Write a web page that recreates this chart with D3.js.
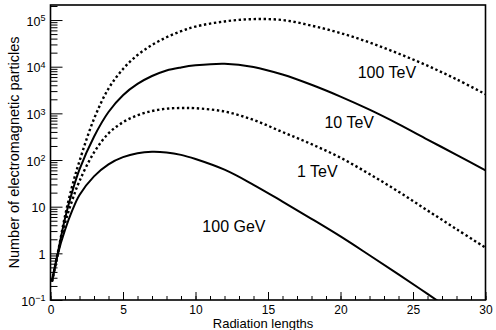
<!DOCTYPE html>
<html lang="en">
    <head>
        <meta charset="utf-8">
        <title>Electromagnetic shower profiles</title>
        <script src="https://d3js.org/d3.v7.min.js" charset="utf-8"></script>
        <style>
            body { margin: 0; background: #fff; }
            text { font-family: "Liberation Sans", Arial, Helvetica, sans-serif; fill: #000; }
        </style>
    </head>
    <body>
        <script type="text/javascript">

            // Width and height
            var w = 496;
            var h = 330;

            // depth in radiation lengths
            var radLen = [0.1, 0.5, 1, 1.5, 2, 3, 4, 5, 6, 7, 8, 9, 10, 12, 14, 16, 18, 20, 22, 24, 26, 28, 30];

            // number of particles
            var gev100 = [0.25, 0.95, 3.16, 8.3, 17.8, 44.7, 81, 115, 140, 150, 145, 129, 105, 62, 29.5, 12.9, 5.5, 2.3, 0.91, 0.355, 0.135, 0.051, 0.0195];
            var tev1   = [0.25, 1.0, 4.4, 13.8, 35.5, 145, 372, 646, 912, 1122, 1259, 1303, 1288, 1096, 724, 398, 219, 112, 50, 21, 8.3, 3.3, 1.32];
            var tev10  = [0.25, 1.0, 5.6, 21, 63, 316, 1070, 2450, 4270, 6310, 8320, 9660, 10700, 11600, 9900, 6800, 4100, 2290, 1200, 590, 275, 129, 60];
            var tev100 = [0.25, 1.0, 6.3, 28, 95, 760, 3400, 8900, 17800, 29200, 42700, 57500, 72400, 93300, 104700, 100000, 75900, 52500, 33100, 19100, 10500, 5370, 2570];

            var series = [
                { values: gev100, dotted: false },
                { values: tev1, dotted: true },
                { values: tev10, dotted: false },
                { values: tev100, dotted: true }
            ];

            // curve labels, placed in data coordinates
            var labelText = ["100 TeV", "10 TeV", "1 TeV", "100 GeV"];
            var labelT    = [23.2, 20.6, 18.4, 12.65];
            var labelN    = [5600, 480, 43, 2.9];

            // axis ticks
            var xMajor = [0, 5, 10, 15, 20, 25, 30];
            var xMinor = d3.range(0, 31, 1);
            var yMajor = [0.1, 1, 10, 100, 1000, 10000, 100000];
            var yLabels = [["10", "\u22121"], ["1", ""], ["10", ""], ["10", "2"], ["10", "3"], ["10", "4"], ["10", "5"]];

            // plot frame (top/left are taken by window, so prefixed)
            var pLeft = 50.5, pRight = 485.5, pTop = 5, pBottom = 300;

            var x = d3.scaleLinear().domain([0, 30]).range([pLeft, pRight]);
            var y = d3.scaleLog().domain([0.1, 2.1e5]).range([pBottom, pTop]);

            var svg = d3.select("body")
                .append("svg")
                .attr("width", w)
                .attr("height", h);

            svg.append("clipPath")
                .attr("id", "plotclip")
                .append("rect")
                .attr("x", pLeft)
                .attr("y", pTop)
                .attr("width", pRight - pLeft)
                .attr("height", pBottom - pTop);

            // minor ticks on y (2..9 of each decade)
            var yMinor = [];
            yMajor.forEach(function (d) {
                for (var k = 2; k <= 9; k++) {
                    if (d * k <= 2.1e5) yMinor.push(d * k);
                }
            });

            svg.append("g")
                .attr("transform", "translate(" + pLeft + ",0)")
                .call(d3.axisLeft(y).tickValues(yMinor).tickSize(-7).tickFormat(""))
                .call(function (g) { g.select(".domain").remove(); });

            var yAxis = svg.append("g")
                .attr("transform", "translate(" + pLeft + ",0)")
                .call(d3.axisLeft(y).tickValues(yMajor).tickSize(-12).tickPadding(5).tickFormat(""));
            yAxis.select(".domain").remove();

            // 10^n labels with superscripts
            yAxis.selectAll(".tick text")
                .attr("dy", "0.42em")
                .style("font-size", "12.5px")
                .each(function (d, i) {
                    var t = d3.select(this);
                    t.append("tspan").text(yLabels[i][0]);
                    if (yLabels[i][1] !== "") {
                        t.append("tspan")
                            .attr("dy", "-0.5em")
                            .style("font-size", "9px")
                            .text(yLabels[i][1]);
                    }
                });

            // x ticks
            svg.append("g")
                .attr("transform", "translate(0," + pBottom + ")")
                .call(d3.axisBottom(x).tickValues(xMinor).tickSize(-4).tickFormat(""))
                .call(function (g) { g.select(".domain").remove(); });

            var xAxis = svg.append("g")
                .attr("transform", "translate(0," + pBottom + ")")
                .call(d3.axisBottom(x).tickValues(xMajor).tickSize(-8).tickPadding(5));
            xAxis.select(".domain").remove();
            xAxis.selectAll(".tick text").style("font-size", "12px");

            svg.selectAll(".tick line").attr("stroke", "#000").attr("stroke-width", 1);

            // frame
            svg.append("rect")
                .attr("x", pLeft)
                .attr("y", pTop)
                .attr("width", pRight - pLeft)
                .attr("height", pBottom - pTop)
                .attr("fill", "none")
                .attr("stroke", "#000")
                .attr("stroke-width", 1.6);

            // curves
            var line = d3.line()
                .x(function (d) { return x(d[0]); })
                .y(function (d) { return y(d[1]); })
                .curve(d3.curveCatmullRom.alpha(0.5));

            svg.append("g")
                .attr("clip-path", "url(#plotclip)")
                .selectAll("path")
                .data(series)
                .enter()
                .append("path")
                .attr("fill", "none")
                .attr("stroke", "#000")
                .attr("stroke-width", function (d) { return d.dotted ? 2.4 : 2; })
                .attr("stroke-dasharray", function (d) { return d.dotted ? "2.4,2.6" : null; })
                .attr("d", function (d) {
                    return line(radLen.map(function (t, i) { return [t, d.values[i]]; }));
                });

            // curve labels
            svg.selectAll(".curvelabel")
                .data(labelText)
                .enter()
                .append("text")
                .attr("class", "curvelabel")
                .attr("x", function (d, i) { return x(labelT[i]); })
                .attr("y", function (d, i) { return y(labelN[i]); })
                .attr("text-anchor", "middle")
                .style("font-size", "16px")
                .text(function (d) { return d; });

            // axis titles
            svg.append("text")
                .attr("x", 263)
                .attr("y", 328)
                .attr("text-anchor", "middle")
                .style("font-size", "13px")
                .text("Radiation lengths");

            svg.append("text")
                .attr("transform", "translate(19," + ((pTop + pBottom) / 2) + ") rotate(-90)")
                .attr("text-anchor", "middle")
                .style("font-size", "14.5px")
                .text("Number of electromagnetic particles");

        </script>
    </body>
</html>
